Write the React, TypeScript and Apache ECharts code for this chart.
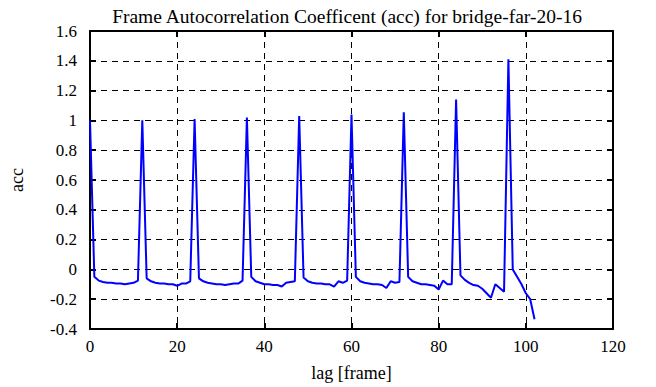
import React, { useEffect, useRef } from "react";
import * as echarts from "echarts";

const titleText = "Frame Autocorrelation Coefficent (acc) for bridge-far-20-16";
const xName = "lag [frame]";
const yName = "acc";

const lags: number[] = [
  0, 1, 2, 3, 4, 5, 6, 7, 8, 9, 10, 11, 12, 13, 14, 15, 16, 17, 18, 19, 20,
  21, 22, 23, 24, 25, 26, 27, 28, 29, 30, 31, 32, 33, 34, 35, 36, 37, 38, 39, 40,
  41, 42, 43, 44, 45, 46, 47, 48, 49, 50, 51, 52, 53, 54, 55, 56, 57, 58, 59, 60,
  61, 62, 63, 64, 65, 66, 67, 68, 69, 70, 71, 72, 73, 74, 75, 76, 77, 78, 79, 80,
  81, 82, 83, 84, 85, 86, 87, 88, 89, 90, 91, 92, 93, 94, 95, 96, 97, 98, 99, 100,
  101, 102,
];

const acc: number[] = [
  1.0, -0.05, -0.075, -0.085, -0.09, -0.09, -0.095, -0.095, -0.1, -0.095, -0.09,
  -0.075, 1.0, -0.06, -0.08, -0.09, -0.095, -0.095, -0.1, -0.1, -0.11,
  -0.095, -0.095, -0.08, 1.01, -0.06, -0.08, -0.09, -0.095, -0.1, -0.1,
  -0.105, -0.1, -0.095, -0.095, -0.075, 1.02, -0.05, -0.08, -0.09, -0.1,
  -0.1, -0.105, -0.105, -0.115, -0.09, -0.085, -0.08, 1.03, -0.055, -0.08,
  -0.09, -0.095, -0.095, -0.1, -0.1, -0.115, -0.08, -0.09, -0.075, 1.04,
  -0.05, -0.08, -0.09, -0.095, -0.1, -0.1, -0.105, -0.125, -0.08, -0.09,
  -0.085, 1.055, -0.05, -0.08, -0.09, -0.1, -0.1, -0.105, -0.11, -0.135,
  -0.075, -0.1, -0.1, 1.14, -0.04, -0.07, -0.09, -0.105, -0.11, -0.13,
  -0.16, -0.19, -0.1, -0.125, -0.15, 1.41, 0.0, -0.05, -0.1, -0.16,
  -0.2, -0.335,
];

const xTicks = { min: 0, max: 120, interval: 20 };
const yTicks = { min: -0.4, max: 1.6, interval: 0.2 };

export default function App() {
  const ref = useRef<HTMLDivElement>(null);
  useEffect(() => {
    if (!ref.current) return;
    const chart = echarts.init(ref.current, undefined, { renderer: "svg" });
    const font = "'Liberation Serif', 'Times New Roman', serif";
    const fmt = (v: number) => String(Math.round(v * 10) / 10);
    const axisLine = { show: true, onZero: false, lineStyle: { color: "#000", width: 2 } };
    const tick = { show: true, inside: true, length: 6, lineStyle: { color: "#000", width: 2 } };
    const split = { show: true, lineStyle: { color: "#000", width: 1, type: [6, 5] as any } };
    const labelStyle = { fontFamily: font, fontSize: 17, color: "#000" };
    chart.setOption({
      animation: false,
      backgroundColor: "#fff",
      textStyle: { fontFamily: font, color: "#000" },
      title: {
        text: titleText,
        left: 342,
        textAlign: "center",
        top: 1,
        textStyle: { fontFamily: font, fontSize: 19.5, fontWeight: "normal", color: "#000" },
      },
      grid: { left: 86, right: 43, top: 31, bottom: 56 },
      xAxis: [
        {
          type: "value",
          ...xTicks,
          name: xName,
          nameLocation: "middle",
          nameGap: 35,
          nameTextStyle: { ...labelStyle, fontSize: 18 },
          axisLine,
          axisTick: tick,
          splitLine: split,
          axisLabel: { ...labelStyle, margin: 9, formatter: fmt },
        },
        {
          type: "value",
          position: "top",
          ...xTicks,
          axisLine,
          axisTick: tick,
          splitLine: { show: false },
          axisLabel: { show: false },
        },
      ],
      yAxis: [
        {
          type: "value",
          ...yTicks,
          name: yName,
          nameLocation: "middle",
          nameGap: 64,
          nameTextStyle: { ...labelStyle, fontSize: 18 },
          axisLine,
          axisTick: tick,
          splitLine: split,
          axisLabel: { ...labelStyle, margin: 13, formatter: fmt },
        },
        {
          type: "value",
          position: "right",
          ...yTicks,
          axisLine,
          axisTick: tick,
          splitLine: { show: false },
          axisLabel: { show: false },
        },
      ],
      series: [
        {
          type: "line",
          xAxisIndex: 0,
          yAxisIndex: 0,
          data: lags.map((l, i) => [l, acc[i]]),
          showSymbol: false,
          symbol: "none",
          lineStyle: { color: "#0000ff", width: 2 },
        },
      ],
    });
    return () => chart.dispose();
  }, []);
  return (
    <div
      ref={ref}
      style={{ position: "absolute", left: 0, top: 0, width: 656, height: 387 }}
    />
  );
}
